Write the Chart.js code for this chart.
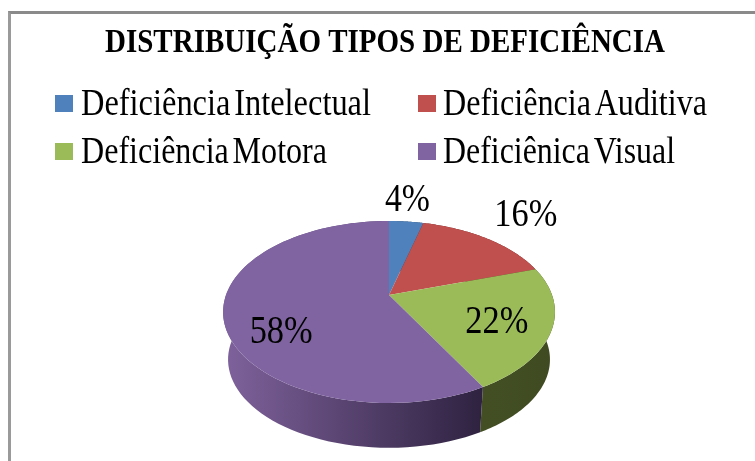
<!DOCTYPE html>
<html>
<head>
<meta charset="utf-8">
<title>Distribuição tipos de deficiência</title>
<style>
    html, body { margin: 0; padding: 0; background: #fff; overflow: hidden; }
    #wrap { position: relative; width: 755px; height: 461px; overflow: hidden; }
    #frame { position: absolute; left: 8px; top: 11px; width: 800px; height: 500px; border-left: 3px solid #9a9a9a; border-top: 3px solid #8a8a8a; }
    canvas { position: absolute; left: 0; top: 0; }
</style>
</head>
<body>
<div id="wrap">
    <div id="frame"></div>
    <canvas id="chart" width="755" height="461"></canvas>
</div>
<script src="https://cdn.jsdelivr.net/npm/chart.js@4/dist/chart.umd.js"></script>
<script>
const chartTitle = 'DISTRIBUIÇÃO TIPOS DE DEFICIÊNCIA';
const categories = ['Deficiência Intelectual', 'Deficiência Auditiva', 'Deficiência Motora', 'Deficiênica Visual'];
const values = [4, 16, 22, 58];
const sliceColors = ['#4f81bd', '#c0504d', '#9bbb59', '#8064a2'];
const sideColors = [['#27405e', '#27405e'], ['#602826', '#602826'], ['#434f23', '#3f4a22'], ['#7f629c', '#2e2240']];

// legend cells: x of marker, x of text, text width, baseline
const legendCells = [
    { box: 55, text: 81, width: 290, base: 115 },
    { box: 418, text: 443, width: 264, base: 115 },
    { box: 55, text: 81, width: 246, base: 163 },
    { box: 418, text: 443, width: 232, base: 163 },
];

// label placement on the disc, clock angle in degrees and fraction of radius
const labelAngles = [6, 43, 115, 237];
const labelRadii = [1.35, 1.48, 0.69, 0.73];
const labelWidths = [45, 63, 63, 63];

// the picture is a tilted disc in perspective, canvas can't do that with a transform
const PERSPECTIVE = 0.187;
const SCALE_X = 0.982;
const SCALE_Y = 0.529;
const DEPTH = 48;
const BOTTOM_SHRINK = 0.97;

function project(arc, angle, r = 1, shrink = 1, drop = 0) {
    const R = arc.outerRadius;
    const u = r * Math.cos(angle);
    const v = r * Math.sin(angle);
    const s = shrink / (1 - PERSPECTIVE * v);
    return {
        x: arc.x + R * SCALE_X * u * s,
        y: arc.y + drop + R * SCALE_Y * v * s,
    };
}

function rimPoints(arc, shrink, drop) {
    const pts = [];
    const steps = 80;
    for (let i = 0; i <= steps; i++) {
        const a = arc.startAngle + (arc.endAngle - arc.startAngle) * i / steps;
        pts.push(project(arc, a, 1, shrink, drop));
    }
    return pts;
}

function tracePath(ctx, pts) {
    ctx.beginPath();
    pts.forEach((p, i) => {
        if (i === 0) {
            ctx.moveTo(p.x, p.y);
        } else {
            ctx.lineTo(p.x, p.y);
        }
    });
    ctx.closePath();
}

const tiltedPie = {
    id: 'tiltedPie',
    beforeDatasetsDraw(chart) {
        const ctx = chart.ctx;
        const arcs = chart.getDatasetMeta(0).data;

        arcs.forEach((arc, i) => {
            const top = rimPoints(arc, 1, 0);
            const bottom = rimPoints(arc, BOTTOM_SHRINK, DEPTH);
            const left = Math.min(...top.map((p) => p.x));
            const right = Math.max(...top.filter((p) => p.y > arc.y).map((p) => p.x), left + 1);
            const grad = ctx.createLinearGradient(left, 0, right, 0);
            grad.addColorStop(0, sideColors[i][0]);
            grad.addColorStop(1, sideColors[i][1]);
            tracePath(ctx, top.concat(bottom.reverse()));
            ctx.fillStyle = grad;
            ctx.fill();
        });

        arcs.forEach((arc) => {
            tracePath(ctx, [{ x: arc.x, y: arc.y }].concat(rimPoints(arc, 1, 0)));
            ctx.fillStyle = arc.options.backgroundColor;
            ctx.fill();
        });

        return false;
    },
    afterDraw(chart) {
        const ctx = chart.ctx;
        const arcs = chart.getDatasetMeta(0).data;
        ctx.save();
        ctx.fillStyle = '#000';

        ctx.textAlign = 'center';
        ctx.textBaseline = 'alphabetic';
        ctx.font = 'bold 34px "Liberation Serif"';
        ctx.fillText(chartTitle, 385, 52, 560);

        ctx.font = '40px "Liberation Serif"';
        ctx.textBaseline = 'middle';
        arcs.forEach((arc, i) => {
            const angle = (labelAngles[i] - 90) * Math.PI / 180;
            const p = project(arc, angle, labelRadii[i]);
            ctx.fillText(values[i] + '%', p.x, p.y, labelWidths[i]);
        });

        ctx.textAlign = 'left';
        ctx.textBaseline = 'alphabetic';
        ctx.font = '38px "Liberation Serif"';
        ctx.wordSpacing = '-5px';
        categories.forEach((name, i) => {
            const cell = legendCells[i];
            ctx.fillStyle = sliceColors[i];
            ctx.fillRect(cell.box, cell.base - 20, 18, 17);
            ctx.fillStyle = '#000';
            ctx.fillText(name, cell.text, cell.base, cell.width);
        });
        ctx.restore();
    },
};

new Chart(document.getElementById('chart'), {
    type: 'pie',
    data: {
        labels: categories,
        datasets: [{
            data: values,
            backgroundColor: sliceColors,
            borderWidth: 0,
        }],
    },
    options: {
        responsive: false,
        animation: false,
        layout: { padding: { left: 23, top: 129 } },
        plugins: {
            legend: { display: false },
            title: { display: false },
            tooltip: { enabled: false },
        },
    },
    plugins: [tiltedPie],
});
</script>
</body>
</html>
